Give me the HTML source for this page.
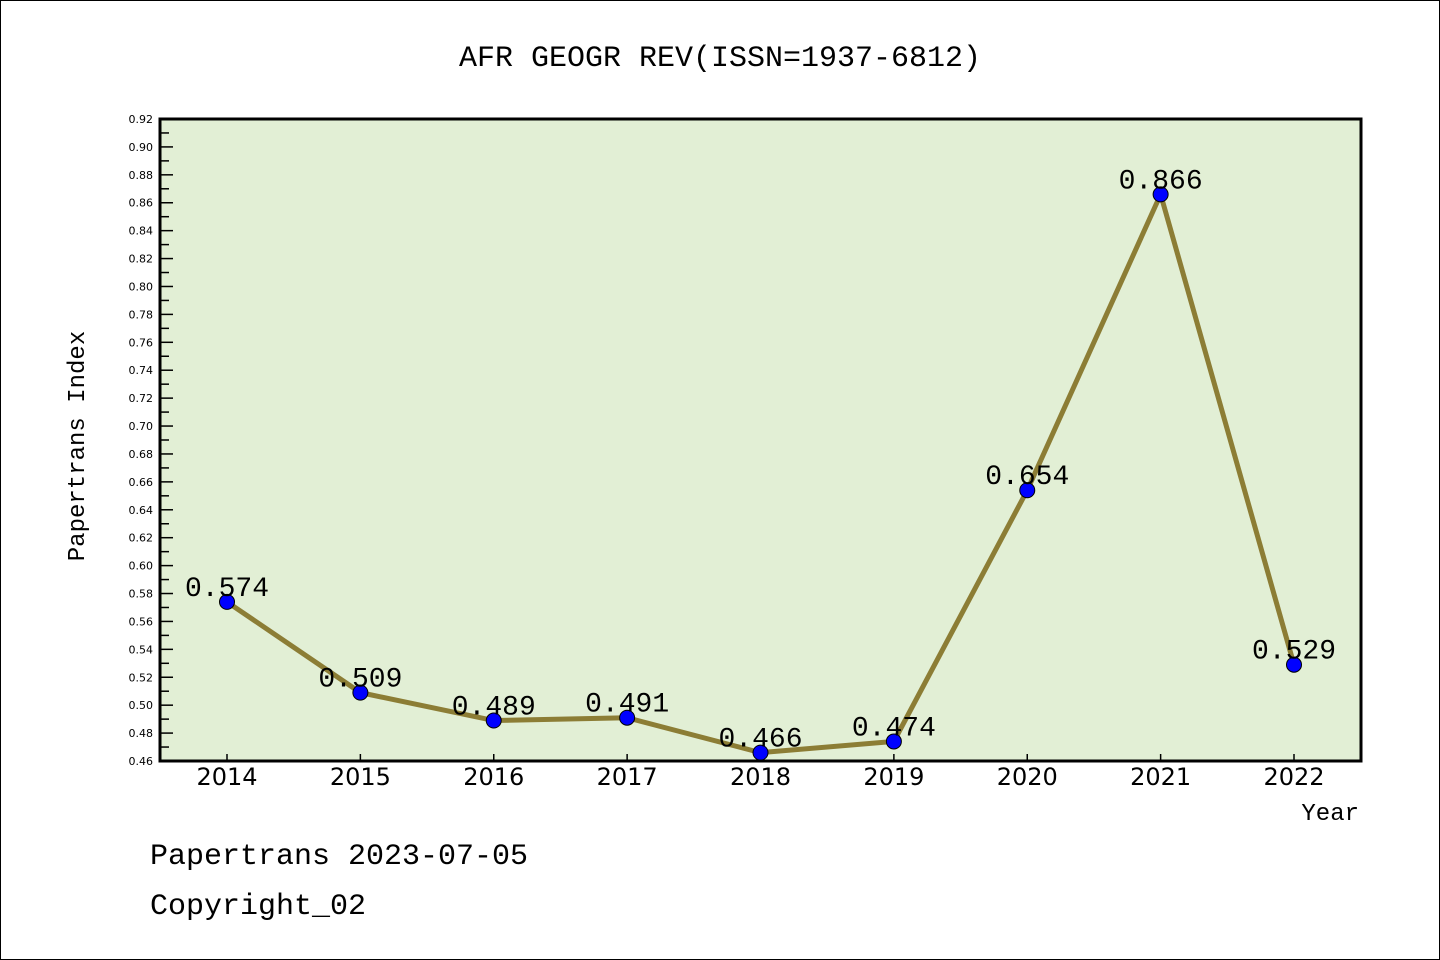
<!DOCTYPE html>
<html><head><meta charset="utf-8"><style>
body{margin:0;background:#fff}
svg{display:block}
text{font-family:"Liberation Mono","Noto Sans CJK SC",monospace}
text.tk{font-family:"DejaVu Sans",sans-serif}
</style></head><body>
<svg id="c" width="1440" height="960">
<rect x="0.5" y="0.5" width="1439" height="959" fill="#fff" stroke="#000"/>
<text x="720" y="66" text-anchor="middle" font-size="30">AFR GEOGR REV(ISSN=1937-6812)</text>
<rect x="160" y="119" width="1201" height="642" fill="#e2efd5"/>
<g id="axes"></g>
<g id="marks"></g>
<rect x="160" y="119" width="1201" height="642" fill="none" stroke="#000" stroke-width="3"/>
<text transform="translate(84,446) rotate(-90)" text-anchor="middle" font-size="24">Papertrans Index</text>
<text x="1359" y="820" text-anchor="end" font-size="24">Year</text>
<text x="150" y="864" font-size="30">Papertrans 2023-07-05</text>
<text x="150" y="914" font-size="30">Copyright_02</text>
</svg>
<script>
const years=["2014","2015","2016","2017","2018","2019","2020","2021","2022"];
const values=[0.574,0.509,0.489,0.491,0.466,0.474,0.654,0.866,0.529];
const valueLabels=["0.574","0.509","0.489","0.491","0.466","0.474","0.654","0.866","0.529"];
const yMin=0.46,yMax=0.92;
const NS="http://www.w3.org/2000/svg";
function xs(i){return 227+i*(1294-227)/8;}
function ys(v){return 761-(v-yMin)/(yMax-yMin)*642;}
function mk(t,a,p){const e=document.createElementNS(NS,t);for(const k in a)e.setAttribute(k,a[k]);p.appendChild(e);return e;}
const ax=document.getElementById('axes'),mg=document.getElementById('marks');
for(let k=0;k<=46;k++){
  const v=yMin+k*0.01,y=ys(v),major=k%2==0;
  const t=mk('line',{x1:160,x2:major?173:169,y1:y,y2:y,stroke:'#000','stroke-width':1.5},ax);
  
  
  if(major){const l=mk('text',{x:153,y:y+4,'text-anchor':'end','font-size':11,'class':'tk'},ax);l.textContent=v.toFixed(2);
  
  }
}
years.forEach((yr,i)=>{
  const x=xs(i);
  const t=mk('line',{x1:x,x2:x,y1:761,y2:754,stroke:'#000','stroke-width':1.5},ax);
  
  
  const l=mk('text',{x:x,y:785,'text-anchor':'middle','font-size':24,'class':'tk'},ax);l.textContent=yr;
  
  
});
const pl=mk('polyline',{points:values.map((v,i)=>xs(i)+','+ys(v)).join(' '),fill:'none',stroke:'#8c7d35','stroke-width':5},mg);


values.forEach((v,i)=>{
  const c=mk('circle',{cx:xs(i),cy:ys(v),r:7.5,fill:'#0000ff',stroke:'#000','stroke-width':1},mg);
  
  
  const l=mk('text',{x:xs(i),y:ys(v)-6,'text-anchor':'middle','font-size':28},mg);l.textContent=valueLabels[i];
  
  
});
</script>
</body></html>
